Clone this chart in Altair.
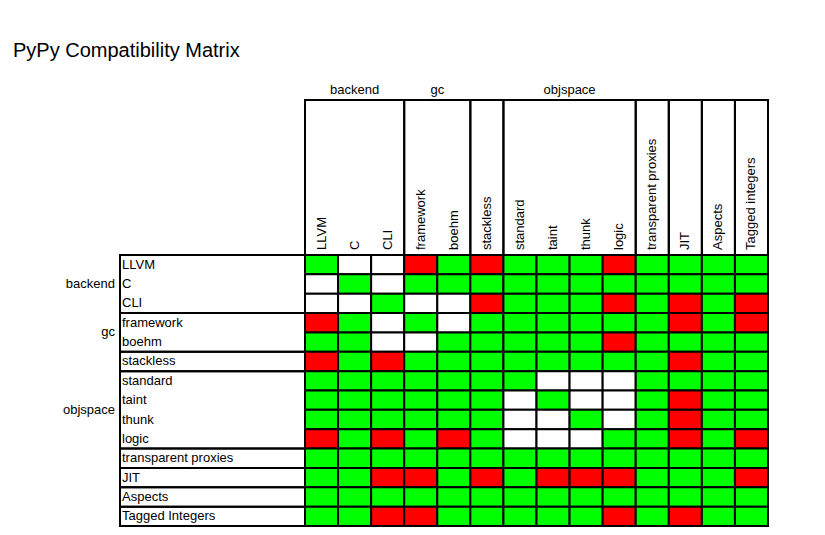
#!/usr/bin/env python3
"""PyPy compatibility matrix"""
import altair as alt
import pandas as pd

FONT = 'Liberation Sans'

columns = ['LLVM', 'C', 'CLI', 'framework', 'boehm', 'stackless', 'standard',
           'taint', 'thunk', 'logic', 'transparent proxies', 'JIT', 'Aspects',
           'Tagged integers']
rows = ['LLVM', 'C', 'CLI', 'framework', 'boehm', 'stackless', 'standard',
        'taint', 'thunk', 'logic', 'transparent proxies', 'JIT', 'Aspects',
        'Tagged Integers']
# G = works, R = does not work, W = not applicable
matrix = [
    'GWWRGRGGGRGGGG',
    'WGWGGGGGGGGGGG',
    'WWGWWRGGGRGRGR',
    'RGWGWGGGGGGRGR',
    'GGWWGGGGGRGGGG',
    'RGRGGGGGGGGRGG',
    'GGGGGGGWWWGGGG',
    'GGGGGGWGWWGRGG',
    'GGGGGGWWGWGRGG',
    'RGRGRGWWWGGRGR',
    'GGGGGGGGGGGGGG',
    'GGRRGRGRRRGGGR',
    'GGGGGGGGGGGGGG',
    'GGRRGGGGGRGRGG',
]
group_names = ['backend', 'gc', '', 'objspace', '', '', '', '']
group_starts = [0, 3, 5, 6, 10, 11, 12, 13]
group_ends = [3, 5, 6, 10, 11, 12, 13, 14]

cells = pd.DataFrame([
    {'c': j, 'c2': j + 1, 'r': i, 'r2': i + 1, 'v': matrix[i][j]}
    for i in range(len(rows)) for j in range(len(columns))
])
col_df = pd.DataFrame({'label': columns, 'pos': [j + 0.5 for j in range(len(columns))]})
row_df = pd.DataFrame({'label': rows, 'pos': [i + 0.5 for i in range(len(rows))]})
groups = pd.DataFrame({'name': group_names, 's': group_starts, 'e': group_ends})
groups['mid'] = (groups['s'] + groups['e']) / 2

xs = alt.Scale(domain=[0, 14])
ys = alt.Scale(domain=[0, 14], reverse=True)

heat = alt.Chart(cells).mark_rect(stroke='black', strokeWidth=2).encode(
    x=alt.X('c:Q', scale=xs, axis=None), x2='c2',
    y=alt.Y('r:Q', scale=ys, axis=None), y2='r2',
    color=alt.Color('v:N', legend=None, scale=alt.Scale(
        domain=['G', 'R', 'W'], range=['#00ff00', '#ff0000', '#ffffff'])),
)

col_boxes = alt.Chart(groups).mark_rect(
    fill=None, stroke='black', strokeWidth=2
).encode(
    x=alt.X('s:Q', scale=xs, axis=None), x2='e',
    y=alt.value(-155), y2=alt.value(0),
)
row_boxes = alt.Chart(groups).mark_rect(
    fill=None, stroke='black', strokeWidth=2
).encode(
    y=alt.Y('s:Q', scale=ys, axis=None), y2='e',
    x=alt.value(-185), x2=alt.value(0),
)

col_labels = alt.Chart(col_df).mark_text(
    angle=270, align='left', baseline='middle', font=FONT, fontSize=13
).encode(
    x=alt.X('pos:Q', scale=xs, axis=None), y=alt.value(-5), text='label'
)
row_labels = alt.Chart(row_df).mark_text(
    align='left', baseline='middle', font=FONT, fontSize=13
).encode(
    y=alt.Y('pos:Q', scale=ys, axis=None), x=alt.value(-183), text='label'
)
col_groups = alt.Chart(groups).mark_text(
    baseline='bottom', font=FONT, fontSize=13
).encode(
    x=alt.X('mid:Q', scale=xs, axis=None), y=alt.value(-158), text='name'
)
row_groups = alt.Chart(groups).mark_text(
    align='right', baseline='middle', font=FONT, fontSize=13
).encode(
    y=alt.Y('mid:Q', scale=ys, axis=None), x=alt.value(-190), text='name'
)
title = alt.Chart(pd.DataFrame({'t': ['PyPy Compatibility Matrix']})).mark_text(
    align='left', baseline='alphabetic', font=FONT, fontSize=20
).encode(x=alt.value(-292), y=alt.value(-198), text='t')

chart = alt.layer(
    heat, col_boxes, row_boxes, col_labels, row_labels, col_groups, row_groups, title
).properties(
    width=463, height=271, autosize='none',
    padding={'left': 297, 'top': 247, 'right': 49, 'bottom': 4},
).configure_view(stroke=None)

chart.save('out.html', embed_options={'renderer': 'svg', 'actions': False})
